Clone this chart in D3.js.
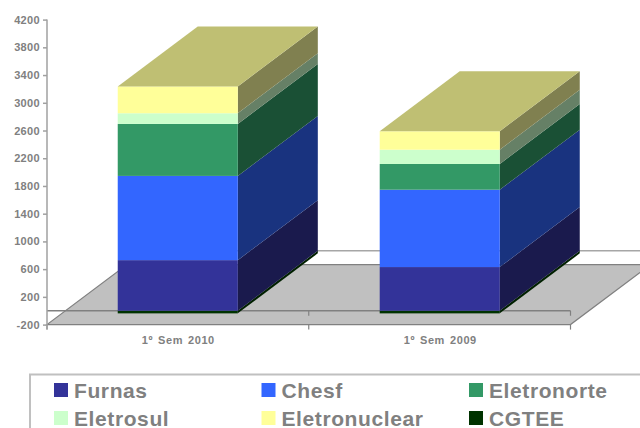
<!DOCTYPE html>
<html><head><meta charset="utf-8">
<script src="https://cdn.jsdelivr.net/npm/d3@7"></script>
<style>html,body{margin:0;padding:0;background:#fff;overflow:hidden}svg{display:block}text{font-family:"Liberation Sans",Arial,sans-serif;font-weight:bold}</style>
</head><body><svg id="c" width="640" height="428"></svg>
<script>
const categories = ["1º Sem 2010", "1º Sem 2009"];
const seriesNames = ["Furnas", "Chesf", "Eletronorte", "Eletrosul", "Eletronuclear", "CGTEE"];
const furnas = [730, 630];
const chesf = [1215, 1116];
const eletronorte = [750, 371];
const eletrosul = [154, 206];
const eletronuclear = [387, 266];
const cgtee = [-38, -38];
const tickLabels = ["4200", "3800", "3400", "3000", "2600", "2200", "1800", "1400", "1000", "600", "200", "-200"];
const frontColors = ["#333399", "#3366ff", "#339966", "#ccffcc", "#ffff99", "#003300"];
const sideColors = ["#1a1a4d", "#19337f", "#1a5035", "#668066", "#808050", "#002000"];
const topColor = "#bfbf73";

const seriesValues = [furnas, chesf, eletronorte, eletrosul, eletronuclear, cgtee];
const svg = d3.select("#c");
const depthX = 80, depthY = -60;
const y = d3.scaleLinear().domain([-200, 4200]).range([324.6, 19.6]);
const x = d3.scaleBand().domain(categories).range([47, 570.5]).paddingInner(0.5417).paddingOuter(0.27);
const gray = "#808080";
const poly = pts => pts.map(p => p.join(",")).join(" ");

// floor
const x0 = x.range()[0], x1 = x.range()[1], yF = y(-200), yZ = y(0);
svg.append("polygon").attr("points", poly([[x0, yF], [x1, yF], [x1 + depthX, yF + depthY], [x0 + depthX, yF + depthY]]))
  .attr("fill", "#c0c0c0").attr("stroke", gray).attr("stroke-width", 1.2);
// back zero line
svg.append("line").attr("x1", x0 + depthX).attr("x2", x1 + depthX).attr("y1", yZ + depthY).attr("y2", yZ + depthY)
  .attr("stroke", "#a6a6a6").attr("stroke-width", 1.5);
// zero line with ticks
svg.append("line").attr("x1", x0).attr("x2", x1).attr("y1", yZ).attr("y2", yZ).attr("stroke", gray).attr("stroke-width", 1.5);
const mid = (x0 + x1) / 2;
[mid, x1].forEach(t => {
  svg.append("line").attr("x1", t).attr("x2", t).attr("y1", yZ).attr("y2", yZ + 5).attr("stroke", gray).attr("stroke-width", 1.2);
});
[x0, mid, x1].forEach(t => {
  svg.append("line").attr("x1", t).attr("x2", t).attr("y1", yF).attr("y2", yF + 5).attr("stroke", gray).attr("stroke-width", 1.2);
});

// bars
categories.forEach((cat, ci) => {
  const bx = x(cat), bw = x.bandwidth();
  const g = svg.append("g");
  const drawSeg = (si, v0, v1) => {
    const yA = y(v0), yB = y(v1);
    const top = Math.min(yA, yB), bot = Math.max(yA, yB);
    g.append("polygon").attr("points", poly([[bx + bw, bot], [bx + bw + depthX, bot + depthY], [bx + bw + depthX, top + depthY], [bx + bw, top]]))
      .attr("fill", sideColors[si]);
    g.append("rect").attr("x", bx).attr("y", top).attr("width", bw).attr("height", bot - top).attr("fill", frontColors[si]);
  };
  drawSeg(5, 0, cgtee[ci]);
  let acc = 0;
  for (let si = 0; si < 5; si++) {
    const v = seriesValues[si][ci];
    drawSeg(si, acc, acc + v);
    acc += v;
  }
  const t = y(acc);
  g.append("polygon").attr("points", poly([[bx, t], [bx + bw, t], [bx + bw + depthX, t + depthY], [bx + depthX, t + depthY]]))
    .attr("fill", topColor);
});

// left axis
const axisG = svg.append("g").attr("transform", `translate(${x0},0)`)
  .call(d3.axisLeft(y).tickValues(tickLabels.map(Number)).tickFormat((d, i) => tickLabels[i]).tickSize(4).tickPadding(3));
axisG.selectAll("path,line").attr("stroke", "#a0a0a0").attr("stroke-width", 1.5);
axisG.select(".domain").attr("d", `M0,${y(4200)}V${yF + 5}`);
axisG.selectAll("text").attr("fill", gray).style("font-size", "11px").style("letter-spacing", "0.35px").style("font-family", '"Liberation Sans"');

// category labels
svg.selectAll(".cat").data(categories).join("text").attr("class", "cat")
  .attr("x", d => x(d) + x.bandwidth() / 2 + 0.5).attr("y", 344).attr("text-anchor", "middle")
  .attr("fill", gray).style("font-size", "11px").style("letter-spacing", "0.55px").style("word-spacing", "1.5px").text(d => d);

// legend
svg.append("rect").attr("x", 30).attr("y", 374.5).attr("width", 640).attr("height", 80)
  .attr("fill", "#fff").attr("stroke", "#c0c0c0").attr("stroke-width", 2);
const legendX = d3.scalePoint().domain([0, 1, 2]).range([54, 469]);
const legendY = d3.scalePoint().domain([0, 1]).range([383, 411]);
const items = svg.selectAll(".leg").data(seriesNames).join("g").attr("class", "leg")
  .attr("transform", (d, i) => `translate(${legendX(i % 3)},${legendY(Math.floor(i / 3))})`);
items.append("rect").attr("width", 14).attr("height", 14).attr("fill", (d, i) => frontColors[i]);
items.append("text").attr("x", 20).attr("y", 14.5).attr("fill", gray)
  .style("font-size", "21px").style("letter-spacing", "0.6px").text(d => d);
</script></body></html>
